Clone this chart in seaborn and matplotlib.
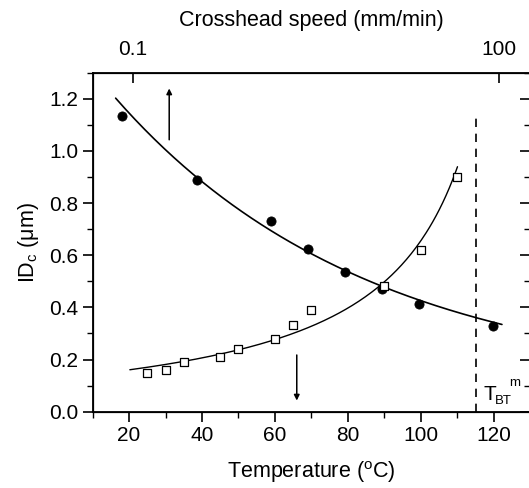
import numpy as np
import pandas as pd
from matplotlib import pyplot as plt
from matplotlib.ticker import MultipleLocator
import seaborn as sns

temp_circ = [18, 38.5, 58.8, 69.1, 79.3, 89.3, 99.6, 119.8]
idc_circ = [1.135, 0.888, 0.732, 0.625, 0.537, 0.469, 0.413, 0.328]

temp_sq = [25, 30, 35, 45, 50, 60, 65, 70, 90, 100, 110]
idc_sq = [0.149, 0.160, 0.19, 0.209, 0.24, 0.28, 0.331, 0.391, 0.482, 0.621, 0.901]

# points
curve_dec_T = [16.3, 23.8, 31.2, 38.5, 58.7, 88.2, 122.3]
curve_dec_ID = [1.208, 1.09, 0.981, 0.891, 0.705, 0.491, 0.331]
curve_inc_T = [20.2, 34.8, 44.9, 60, 72.4, 89.3, 99.9, 107.2, 110.1]
curve_inc_ID = [0.167, 0.192, 0.212, 0.273, 0.346, 0.494, 0.654, 0.827, 0.945]

top_ticks_T = [21.1, 121.4]
top_labels = ['0.1', '100']
t_bt = 115.2

sns.set_style('ticks')
plt.rcParams['font.family'] = ['Liberation Sans', 'DejaVu Sans']
plt.rcParams['mathtext.fontset'] = 'custom'
plt.rcParams['mathtext.rm'] = 'Liberation Sans'
plt.rcParams['mathtext.it'] = 'Liberation Sans:italic'
for k in ['text.color', 'axes.labelcolor', 'xtick.color', 'ytick.color', 'axes.edgecolor']:
    plt.rcParams[k] = 'black'


def fit_curve(x, y, f, p_grid):
    # least squares fit of y = c + a*f(x, p), scanning p
    x = np.asarray(x, float)
    y = np.asarray(y, float)
    best = None
    for p in p_grid:
        A = np.column_stack([np.ones_like(x), f(x, p)])
        coef, *_ = np.linalg.lstsq(A, y, rcond=None)
        err = np.sum((A @ coef - y) ** 2)
        if best is None or err < best[0]:
            best = (err, p, coef)
    _, p, (c, a) = best
    xx = np.linspace(x.min(), x.max(), 200)
    return pd.DataFrame({'T': xx, 'ID': c + a * f(xx, p)})


fit_c = fit_curve(curve_dec_T, curve_dec_ID, lambda t, p: np.exp(-p * t),
                  np.linspace(0.002, 0.06, 400))
fit_s = fit_curve(curve_inc_T, curve_inc_ID, lambda t, p: 1.0 / (p - t),
                  np.linspace(112, 200, 400))

df_c = pd.DataFrame({'T': temp_circ, 'ID': idc_circ})
df_s = pd.DataFrame({'T': temp_sq, 'ID': idc_sq})

fig = plt.figure(figsize=(5.29, 4.88), dpi=100)
ax = fig.add_axes([0.1752, 0.1564, 0.8267, 0.6947])

sns.lineplot(data=fit_c, x='T', y='ID', color='black', lw=1.2, ax=ax)
sns.lineplot(data=fit_s, x='T', y='ID', color='black', lw=1.0, ax=ax)
sns.scatterplot(data=df_c, x='T', y='ID', marker='o', color='black',
                s=44, edgecolor='black', ax=ax, zorder=3)
sns.scatterplot(data=df_s, x='T', y='ID', marker='s', facecolor='white',
                edgecolor='black', linewidth=0.9, s=26, ax=ax, zorder=3)

ax.axvline(t_bt, ymax=1.135 / 1.3, color='black', ls=(0, (5, 4)), lw=1.2)
ax.text(117.3, 0.045, 'T', fontsize=15)
ax.text(120.3, 0.03, 'BT', fontsize=9.5)
ax.text(124.4, 0.1, 'm', fontsize=9.5)

ax.annotate('', xy=(31, 1.25), xytext=(31, 1.032),
            arrowprops=dict(arrowstyle='-|>', color='black', lw=1.1,
                            mutation_scale=8))
ax.annotate('', xy=(66, 0.032), xytext=(66, 0.228),
            arrowprops=dict(arrowstyle='-|>', color='black', lw=1.1,
                            mutation_scale=8))

ax.set_xlim(10, 130)
ax.set_ylim(0, 1.3)
ax.xaxis.set_minor_locator(MultipleLocator(10))
ax.yaxis.set_major_locator(MultipleLocator(0.2))
ax.yaxis.set_minor_locator(MultipleLocator(0.1))
ax.yaxis.set_major_formatter(plt.FormatStrFormatter('%.1f'))
ax.set_xticks([20, 40, 60, 80, 100, 120])
ax.tick_params(which='major', length=7, width=1.2, labelsize=15, direction='out')
ax.tick_params(which='minor', length=4, width=1.0, direction='out')
ax.set_xlabel('Temperature ($^{\\rm o}$C)', fontsize=15.5, labelpad=10)
ax.set_ylabel('ID$_{\\rm c}$ (\u03bcm)', fontsize=15.5, labelpad=6)
for sp in ax.spines.values():
    sp.set_linewidth(1.3)

# right-side ticks point inward
ax2 = ax.twinx()
ax2.set_ylim(0, 1.3)
ax2.yaxis.set_major_locator(MultipleLocator(0.2))
ax2.yaxis.set_minor_locator(MultipleLocator(0.1))
ax2.tick_params(which='major', direction='in', length=7, width=1.2, labelright=False)
ax2.tick_params(which='minor', direction='in', length=4, width=1.0)

# top axis: crosshead speed
top = ax.twiny()
top.set_xlim(ax.get_xlim())
top.set_xticks(top_ticks_T)
top.set_xticklabels(top_labels)
top.tick_params(direction='in', length=7, width=1.2, labelsize=15, pad=10)
top.set_xlabel('Crosshead speed (mm/min)', fontsize=15.5, labelpad=10)

fig.savefig('out.png', dpi=100)
